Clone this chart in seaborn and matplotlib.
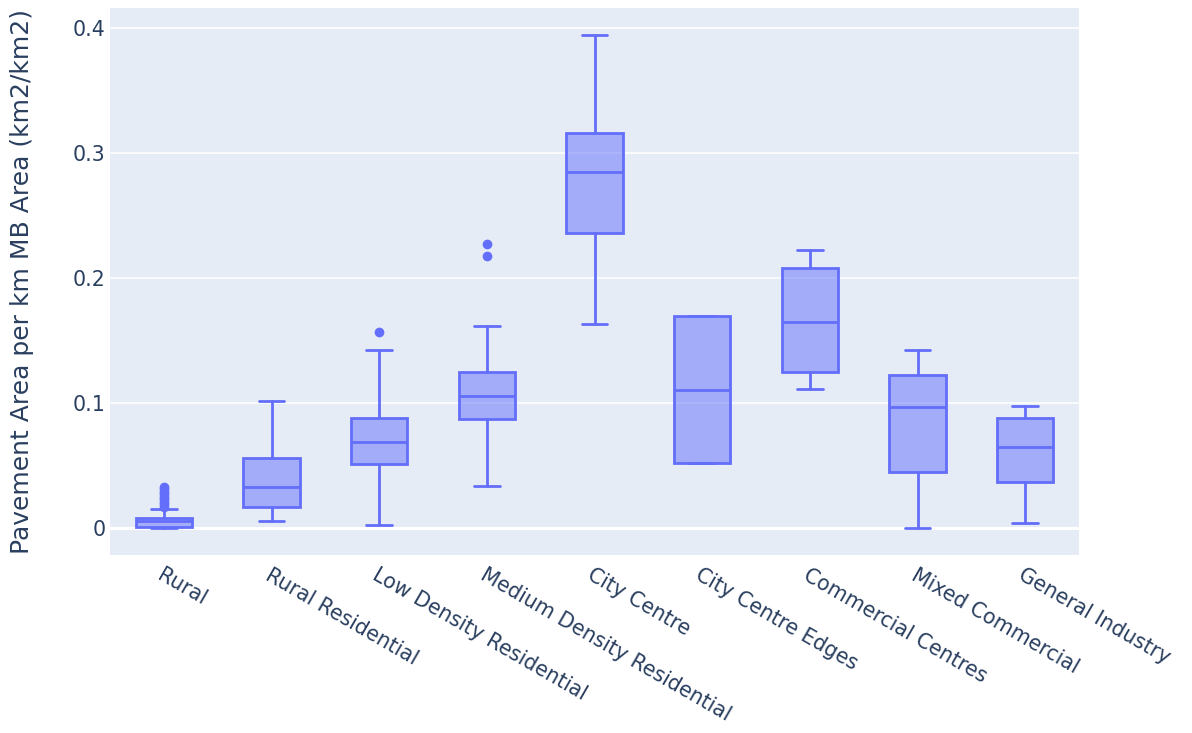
import matplotlib
matplotlib.use("Agg")
import matplotlib.pyplot as plt
import matplotlib.ticker as mticker
import pandas as pd
import seaborn as sns

# Category order along the x axis
categories = [
    "Rural",
    "Rural Residential",
    "Low Density Residential",
    "Medium Density Residential",
    "City Centre",
    "City Centre Edges",
    "Commercial Centres",
    "Mixed Commercial",
    "General Industry",
]

# Box summary statistics per category (km2/km2)
whisker_low = [0.0, 0.0057, 0.0025, 0.034, 0.1635, 0.052, 0.1115, 0.0, 0.004]
q1 = [0.0008, 0.0166, 0.051, 0.0872, 0.236, 0.052, 0.1245, 0.0445, 0.0365]
median = [0.0056, 0.033, 0.069, 0.106, 0.2845, 0.1107, 0.1645, 0.0965, 0.0648]
q3 = [0.0083, 0.0557, 0.088, 0.1245, 0.316, 0.1693, 0.2077, 0.1227, 0.088]
whisker_high = [0.0152, 0.102, 0.1425, 0.1613, 0.3947, 0.1693, 0.2221, 0.1421, 0.0979]

# Outlying observations
outliers_rural = [0.017, 0.019, 0.021, 0.023, 0.025, 0.027, 0.029, 0.031, 0.033]
outliers_low_density = [0.157]
outliers_medium_density = [0.218, 0.227]

y_ticks = [0.0, 0.1, 0.2, 0.3, 0.4]
y_label = "Pavement Area per km MB Area (km2/km2)"

LINE = "#636efa"
TEXT = "#2a3f5f"
BG = "#E5ECF6"
LW = 2.0

sns.set_theme(style="darkgrid", rc={
    "axes.facecolor": BG,
    "grid.color": "white",
    "grid.linewidth": 1.0,
    "axes.edgecolor": BG,
})
plt.rcParams["font.family"] = ["DejaVu Sans"]

fig = plt.figure(figsize=(11.92, 7.33), dpi=100)
ax = fig.add_axes([110 / 1192, 1 - 555 / 733, (1079 - 110) / 1192, (555 - 8) / 733])

stats = []
for i, name in enumerate(categories):
    stats.append({
        "label": name,
        "whislo": whisker_low[i],
        "q1": q1[i],
        "med": median[i],
        "q3": q3[i],
        "whishi": whisker_high[i],
        "fliers": [],
    })

positions = list(range(len(categories)))
ax.bxp(
    stats,
    positions=positions,
    widths=0.525,
    capwidths=0.24,
    patch_artist=True,
    showfliers=False,
    boxprops=dict(facecolor=(99 / 255, 110 / 255, 250 / 255, 0.5), edgecolor=LINE, linewidth=LW),
    medianprops=dict(color=LINE, linewidth=LW),
    whiskerprops=dict(color=LINE, linewidth=LW),
    capprops=dict(color=LINE, linewidth=LW),
    zorder=3,
)

outlier_df = pd.DataFrame({
    "category": ["Rural"] * len(outliers_rural)
    + ["Low Density Residential"] * len(outliers_low_density)
    + ["Medium Density Residential"] * len(outliers_medium_density),
    "value": outliers_rural + outliers_low_density + outliers_medium_density,
})
sns.stripplot(
    data=outlier_df, x="category", y="value", order=categories,
    jitter=False, color=LINE, size=7, linewidth=0, ax=ax, zorder=4,
)

ax.axhline(0, color="white", linewidth=2.2, zorder=1)

ax.set_xlim(-0.5, len(categories) - 0.5)
ax.set_ylim(-0.0216, 0.416)
ax.set_yticks(y_ticks)
ax.yaxis.set_major_formatter(mticker.FuncFormatter(lambda v, p: "0" if abs(v) < 1e-9 else f"{v:g}"))
ax.set_xticks(positions)
ax.set_xticklabels(categories, rotation=-30, ha="left", va="top", rotation_mode="anchor")
ax.grid(axis="x", visible=False)
ax.grid(axis="y", color="white", linewidth=1.1)
ax.set_axisbelow(True)
for s in ax.spines.values():
    s.set_visible(False)

ax.tick_params(axis="both", length=0, labelsize=14.8, colors=TEXT)
ax.tick_params(axis="y", pad=3)
ax.tick_params(axis="x", pad=7)
ax.set_xlabel("")
ax.set_ylabel(y_label, fontsize=18, color=TEXT)
ax.yaxis.set_label_coords(-0.078, 0.5)

fig.savefig("out.png", dpi=100, facecolor="white")
